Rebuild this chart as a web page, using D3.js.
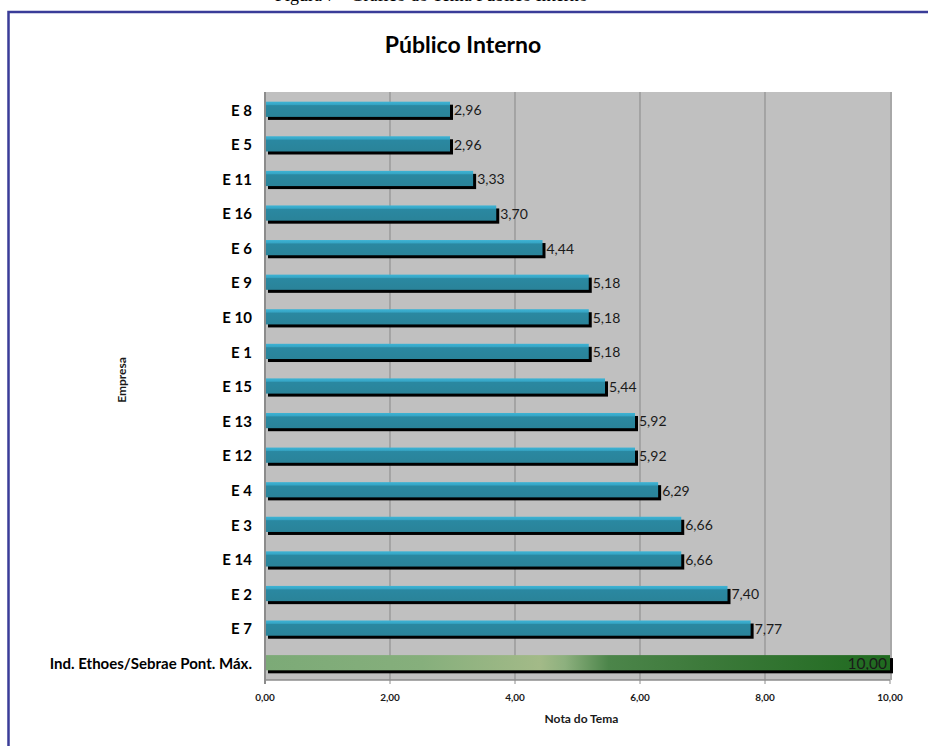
<!DOCTYPE html>
<html><head><meta charset="utf-8">
<script src="https://cdn.jsdelivr.net/npm/d3@7"></script>
<style>html,body{margin:0;padding:0;background:#fff;overflow:hidden}</style>
</head><body>
<svg id="c" width="928" height="746"></svg>
<script>
const categories = ["E 8","E 5","E 11","E 16","E 6","E 9","E 10","E 1","E 15","E 13","E 12","E 4","E 3","E 14","E 2","E 7","Ind. Ethoes/Sebrae Pont. Máx."];
const values = [2.96,2.96,3.33,3.70,4.44,5.18,5.18,5.18,5.44,5.92,5.92,6.29,6.66,6.66,7.40,7.77,10.00];
const xTicks = [0,2,4,6,8,10];
const title = "Público Interno";
const xTitle = "Nota do Tema";
const yTitle = "Empresa";
const caption = "Figura 7 - Gráfico do Tema Público Interno";

const data = categories.map((c,i)=>({cat:c, val:values[i], ref: i===categories.length-1}));
const svg = d3.select("#c");
const M = {left:265, right:890, top:92, bottom:680};
const x = d3.scaleLinear().domain([0,10]).range([M.left, M.right]);
const y = d3.scaleBand().domain(categories).range([M.top, M.bottom]).paddingInner(0.56).paddingOuter(0.28);
const fmt = v => d3.format(".2f")(v).replace(".", ",");
const font = "Lato, 'Open Sans', sans-serif";

// caption (cut off at top, as in the reference)
svg.append("text").attr("x",275).attr("y",1).attr("font-family","'Liberation Serif', serif")
  .attr("font-size",18).attr("fill","#000").text(caption);

// frame
svg.append("rect").attr("x",8.5).attr("y",12).attr("width",940).attr("height",760)
  .attr("fill","#fff").attr("stroke","#3A3C98").attr("stroke-width",2.5);

// title
svg.append("text").attr("x",463).attr("y",53).attr("text-anchor","middle")
  .attr("font-family",font).attr("font-weight",700).attr("font-size",23).attr("fill","#000").text(title);

// plot background
svg.append("rect").attr("x",M.left).attr("y",M.top).attr("width",M.right-M.left).attr("height",M.bottom-M.top).attr("fill","#C0C0C0");
svg.append("line").attr("x1",M.right+1).attr("x2",M.right+1).attr("y1",M.top).attr("y2",M.bottom).attr("stroke","#A8A8A8").attr("stroke-width",2);

// gridlines
svg.append("g").selectAll("line").data(xTicks.slice(1,-1)).join("line")
  .attr("x1",d=>x(d)).attr("x2",d=>x(d)).attr("y1",M.top).attr("y2",M.bottom)
  .attr("stroke","#878787").attr("stroke-width",1);

// defs
const defs = svg.append("defs");
const bg = defs.append("linearGradient").attr("id","blueG").attr("x1",0).attr("y1",0).attr("x2",0).attr("y2",1);
[[0,"#3DB3D4"],[0.18,"#36A6C6"],[0.26,"#2A88A1"],[1,"#2A8399"]].forEach(s=>bg.append("stop").attr("offset",s[0]).attr("stop-color",s[1]));
const gg = defs.append("linearGradient").attr("id","greenG").attr("gradientUnits","userSpaceOnUse")
  .attr("x1",x(0)).attr("y1",0).attr("x2",x(10)).attr("y2",0);
[[0,"#7CAA77"],[0.25,"#86AF7C"],[0.44,"#A3BA88"],[0.48,"#8DB07E"],[0.55,"#4C854A"],[0.7,"#3D7A3B"],[1,"#1F6A1F"]].forEach(s=>gg.append("stop").attr("offset",s[0]).attr("stop-color",s[1]));

// shadows
const bh = y.bandwidth();
svg.append("g").selectAll("rect").data(data).join("rect")
  .attr("x",x(0)+3).attr("y",d=>y(d.cat)+3).attr("width",d=>x(d.val)-x(0)).attr("height",bh).attr("fill","#000");
// bars
svg.append("g").selectAll("rect").data(data).join("rect")
  .attr("x",x(0)).attr("y",d=>y(d.cat)).attr("width",d=>x(d.val)-x(0)).attr("height",bh)
  .attr("fill",d=>d.ref?"url(#greenG)":"url(#blueG)");

// value labels
svg.append("g").selectAll("text").data(data).join("text")
  .attr("x",d=>d.ref? x(d.val)-3 : x(d.val)+4)
  .attr("y",d=>y(d.cat)+bh/2+1)
  .attr("dy","0.35em")
  .attr("text-anchor",d=>d.ref?"end":"start")
  .attr("font-family",font).attr("font-size",d=>d.ref?15.5:14).attr("fill","#1a1a1a")
  .text(d=>fmt(d.val));

// axes lines
svg.append("line").attr("x1",M.left).attr("x2",M.left).attr("y1",M.top).attr("y2",M.bottom+4).attr("stroke","#8C8C8C").attr("stroke-width",2);
svg.append("line").attr("x1",M.left).attr("x2",M.right).attr("y1",M.bottom).attr("y2",M.bottom).attr("stroke","#8C8C8C").attr("stroke-width",1.5);
svg.append("g").selectAll("line").data(xTicks).join("line")
  .attr("x1",d=>x(d)).attr("x2",d=>x(d)).attr("y1",M.bottom).attr("y2",M.bottom+4).attr("stroke","#8C8C8C");

// x tick labels
svg.append("g").selectAll("text").data(xTicks).join("text")
  .attr("x",d=>x(d)).attr("y",M.bottom+21).attr("text-anchor","middle")
  .attr("font-family",font).attr("font-weight",700).attr("font-size",10).attr("fill","#1a1a1a")
  .text(d=>fmt(d));

// category labels
svg.append("g").selectAll("text").data(data).join("text")
  .attr("x",252).attr("y",d=>y(d.cat)+bh/2+1).attr("dy","0.35em").attr("text-anchor","end")
  .attr("font-family",font).attr("font-weight",700).attr("font-size",15).attr("fill","#000")
  .text(d=>d.cat);

// axis titles
svg.append("text").attr("x",(M.left+M.right)/2 + 4).attr("y",723).attr("text-anchor","middle")
  .attr("font-family",font).attr("font-weight",700).attr("font-size",12).attr("fill","#1a1a1a").text(xTitle);
svg.append("text").attr("transform","translate(126,380) rotate(-90)").attr("text-anchor","middle")
  .attr("font-family",font).attr("font-weight",700).attr("font-size",12).attr("fill","#1a1a1a").text(yTitle);
</script>
</body></html>
